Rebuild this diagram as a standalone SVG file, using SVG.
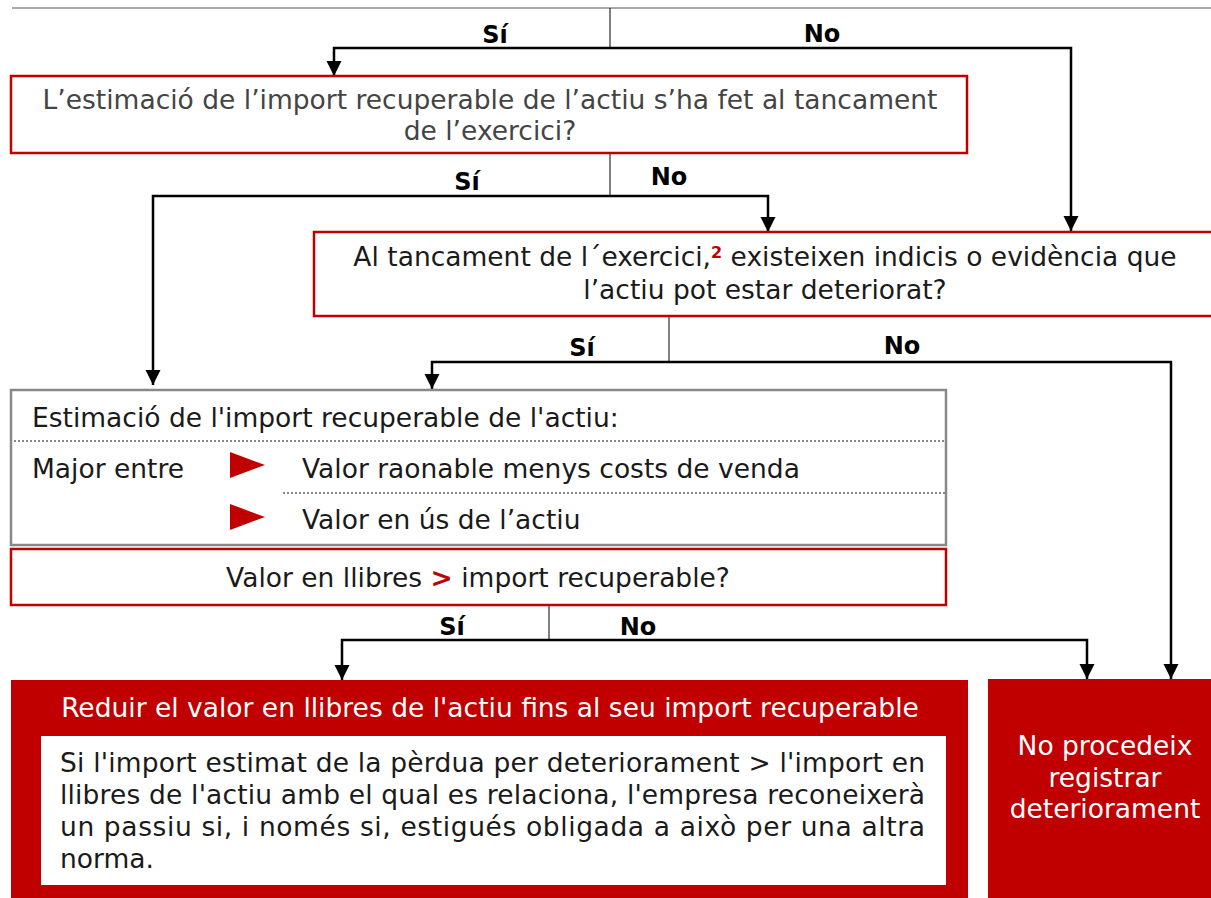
<svg xmlns="http://www.w3.org/2000/svg" width="1211" height="898" viewBox="0 0 1211 898">
<defs>
<marker id="ah" markerWidth="16" markerHeight="16" refX="15" refY="8" orient="auto" markerUnits="userSpaceOnUse" viewBox="0 0 16 16">
<path d="M0,0.5 L15,8 L0,15.5 Z" fill="#000"/>
</marker>
<style>
text{font-family:"DejaVu Sans","Verdana",sans-serif;font-size:26.5px;fill:#1a1a1a}
.lbl{font-weight:bold;font-size:24px;fill:#000}
.thin{stroke:#000;stroke-width:1;fill:none}
.conn{stroke:#000;stroke-width:2.5;fill:none}
.rbox{fill:#fff;stroke:#c00000;stroke-width:2.5}
.gbox{fill:#fff;stroke:#888;stroke-width:2.5}
.dot{stroke:#888;stroke-width:2;stroke-dasharray:2 2;fill:none}
.w{fill:#fff}
.c{text-anchor:middle}
</style>
</defs>
<rect width="1211" height="898" fill="#fff"/>

<g id="connectors">
<line x1="12" y1="8" x2="1211" y2="8" stroke="#555" stroke-width="1.2"/>
<line class="thin" x1="610" y1="8" x2="610" y2="48"/>
<path class="conn" d="M610,48 H334 V76" marker-end="url(#ah)"/>
<path class="conn" d="M610,48 H1071 V231" marker-end="url(#ah)"/>
<line class="thin" x1="610" y1="153" x2="610" y2="196"/>
<path class="conn" d="M610,196 H153 V385" marker-end="url(#ah)"/>
<path class="conn" d="M610,196 H768 V232" marker-end="url(#ah)"/>
<line class="thin" x1="669" y1="316" x2="669" y2="362"/>
<path class="conn" d="M669,362 H432 V389" marker-end="url(#ah)"/>
<path class="conn" d="M669,362 H1171 V679" marker-end="url(#ah)"/>
<line class="thin" x1="549" y1="605" x2="549" y2="640"/>
<path class="conn" d="M549,640 H342 V680" marker-end="url(#ah)"/>
<path class="conn" d="M549,640 H1087 V679" marker-end="url(#ah)"/>
<text class="lbl c" x="495" y="43">Sí</text>
<text class="lbl c" x="822" y="42">No</text>
<text class="lbl c" x="467" y="190">Sí</text>
<text class="lbl c" x="669" y="185">No</text>
<text class="lbl c" x="582" y="356">Sí</text>
<text class="lbl c" x="902" y="354">No</text>
<text class="lbl c" x="452" y="635">Sí</text>
<text class="lbl c" x="638" y="635">No</text>
</g>

<g id="q1">
<rect class="rbox" x="11" y="76" width="956" height="77"/>
<text class="c" x="490" y="109" style="fill:#444">L’estimació de l’import recuperable de l’actiu s’ha fet al tancament</text>
<text class="c" x="490" y="140" style="fill:#444">de l’exercici?</text>
</g>

<g id="q2">
<rect class="rbox" x="314" y="232" width="900" height="84"/>
<text class="c" x="765" y="266">Al tancament de l´exercici,<tspan style="fill:#c00000" font-weight="bold" font-size="16" dy="-8">2</tspan><tspan dy="8"> existeixen indicis o evidència que</tspan></text>
<text class="c" x="765" y="299">l’actiu pot estar deteriorat?</text>
</g>

<g id="estimacio">
<rect class="gbox" x="11" y="390" width="935" height="155"/>
<text x="32" y="427">Estimació de l'import recuperable de l'actiu:</text>
<line class="dot" x1="14" y1="441" x2="945" y2="441"/>
<text x="32" y="478">Major entre</text>
<polygon points="230,452 265,465 230,478" fill="#c00000"/>
<text x="302" y="478">Valor raonable menys costs de venda</text>
<line class="dot" x1="283" y1="493" x2="945" y2="493"/>
<polygon points="230,504 265,517 230,530" fill="#c00000"/>
<text x="302" y="529">Valor en ús de l’actiu</text>
<line class="dot" x1="14" y1="545" x2="945" y2="545"/>
</g>

<g id="q3">
<rect class="rbox" x="11" y="549" width="935" height="56"/>
<text class="c" x="478" y="587">Valor en llibres <tspan style="fill:#c00000" font-weight="bold">&gt;</tspan> import recuperable?</text>
</g>

<g id="reduir">
<rect x="11" y="680" width="957" height="218" fill="#c00000"/>
<text class="c w" x="490" y="717">Reduir el valor en llibres de l'actiu fins al seu import recuperable</text>
<rect x="41" y="736" width="905" height="149" fill="#fff"/>
<text x="60" y="772" textLength="865" lengthAdjust="spacing">Si l'import estimat de la pèrdua per deteriorament &gt; l'import en</text>
<text x="60" y="804" textLength="865" lengthAdjust="spacing">llibres de l'actiu amb el qual es relaciona, l'empresa reconeixerà</text>
<text x="60" y="836" textLength="865" lengthAdjust="spacing">un passiu si, i només si, estigués obligada a això per una altra</text>
<text x="60" y="868">norma.</text>
</g>

<g id="noproc">
<rect x="988" y="679" width="223" height="219" fill="#c00000"/>
<text class="c w" x="1105" y="755">No procedeix</text>
<text class="c w" x="1105" y="787">registrar</text>
<text class="c w" x="1105" y="818">deteriorament</text>
</g>
</svg>
